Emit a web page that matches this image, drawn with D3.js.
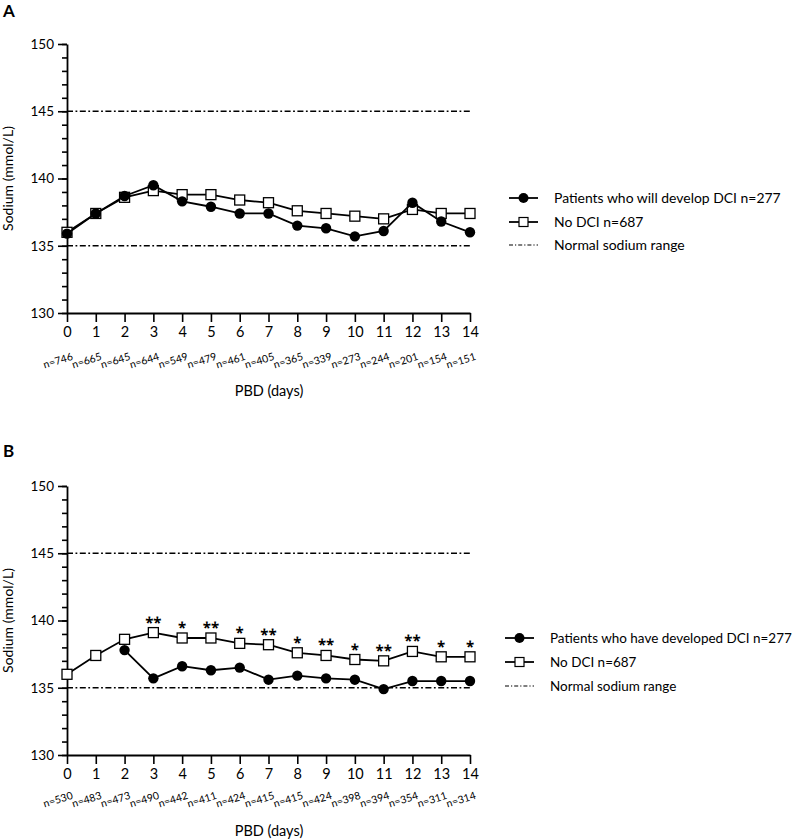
<!DOCTYPE html>
<html>
<head>
<meta charset="utf-8">
<script src="https://cdn.jsdelivr.net/npm/d3@7"></script>
<style>
  html, body { margin: 0; padding: 0; background: #fff; }
  svg { display: block; font-family: Lato, "Open Sans", sans-serif; }
</style>
</head>
<body>
<svg id="chart" width="800" height="840"></svg>
<script>
// ---------- data ----------
const days = [0, 1, 2, 3, 4, 5, 6, 7, 8, 9, 10, 11, 12, 13, 14];
const yTicks = [130, 135, 140, 145, 150];
const normalRange = [135, 145];

const nA = [746, 665, 645, 644, 549, 479, 461, 405, 365, 339, 273, 244, 201, 154, 151];
const dciA = [135.9, 137.4, 138.7, 139.5, 138.3, 137.9, 137.4, 137.4, 136.5, 136.3, 135.7, 136.1, 138.2, 136.8, 136.0];
const noDciA = [136.0, 137.4, 138.6, 139.1, 138.8, 138.8, 138.4, 138.2, 137.6, 137.4, 137.2, 137.0, 137.7, 137.4, 137.4];

const nB = [530, 483, 473, 490, 442, 411, 424, 415, 415, 424, 398, 394, 354, 311, 314];
const dciB = [null, null, 137.8, 135.7, 136.6, 136.3, 136.5, 135.6, 135.9, 135.7, 135.6, 134.9, 135.5, 135.5, 135.5];
const noDciB = [136.0, 137.4, 138.6, 139.1, 138.7, 138.7, 138.3, 138.2, 137.6, 137.4, 137.1, 137.0, 137.7, 137.3, 137.3];
const sigB = ["", "", "", "**", "*", "**", "*", "**", "*", "**", "*", "**", "**", "*", "*"];

const legendA = ["Patients who will develop DCI n=277", "No DCI n=687", "Normal sodium range"];
const legendB = ["Patients who have developed DCI n=277", "No DCI n=687", "Normal sodium range"];

// ---------- drawing ----------
const svg = d3.select("#chart");
const DASH = "6,2.5,1.8,2.5";

function drawPanel(p) {
  const g = svg.append("g");
  const x = d3.scaleLinear().domain([0, 14]).range([67, 470]);
  const y = d3.scaleLinear().domain([130, 150]).range([p.bottom, p.bottom - 269]);

  // panel letter
  g.append("text").attr("x", 3).attr("y", p.letterY)
    .attr("font-size", 17).attr("font-weight", "bold").attr("fill", "#000").text(p.letter);

  // minor y ticks
  g.append("g").attr("transform", "translate(67,0)")
    .call(d3.axisLeft(y).tickValues(d3.range(130, 151, 1)).tickSize(5).tickFormat(""))
    .call(a => a.select(".domain").remove())
    .call(a => a.selectAll("line").attr("stroke-width", 1.6));

  // major y axis
  const ya = g.append("g").attr("transform", "translate(67,0)")
    .call(d3.axisLeft(y).tickValues(yTicks).tickSize(9).tickSizeOuter(0).tickPadding(4));
  ya.select(".domain").attr("stroke-width", 1.8);
  ya.selectAll("line").attr("stroke-width", 1.6);
  ya.selectAll("text").attr("font-size", 13.5).attr("font-family", "Lato, sans-serif");

  // x axis
  const xa = g.append("g").attr("transform", `translate(0,${p.bottom})`)
    .call(d3.axisBottom(x).tickValues(days).tickSize(9).tickSizeOuter(0).tickPadding(5));
  xa.select(".domain").attr("stroke-width", 1.8);
  xa.selectAll("line").attr("stroke-width", 1.6);
  xa.selectAll("text").attr("font-size", 14.5).attr("font-family", "Lato, sans-serif");

  // n labels
  g.append("g").selectAll("text").data(days).join("text")
    .attr("transform", d => `translate(${x(d) - 8},${p.bottom + p.nOff}) rotate(-17)`)
    .attr("text-anchor", "middle").attr("font-size", 10.5).attr("fill", "#000")
    .text((d, i) => "n=" + p.n[i]);

  // axis titles
  g.append("text").attr("x", 269).attr("y", p.bottom + p.titleOff)
    .attr("text-anchor", "middle").attr("font-size", 14.5).attr("fill", "#000").text("PBD (days)");
  g.append("text")
    .attr("transform", `translate(13,${y(140)}) rotate(-90)`)
    .attr("text-anchor", "middle").attr("font-size", 14).attr("fill", "#000").text("Sodium (mmol/L)");

  // normal range lines
  g.append("g").selectAll("line").data(normalRange).join("line")
    .attr("x1", x(0)).attr("x2", x(14))
    .attr("y1", d => y(d)).attr("y2", d => y(d))
    .attr("stroke", "#000").attr("stroke-width", 1.5).attr("stroke-dasharray", DASH);

  const line = d3.line().defined(d => d != null).x((d, i) => x(days[i])).y(d => y(d));

  // no DCI series (squares)
  g.append("path").datum(p.noDci).attr("d", line)
    .attr("fill", "none").attr("stroke", "#000").attr("stroke-width", 1.8);
  g.append("g").selectAll("rect").data(p.noDci).join("rect")
    .attr("x", (d, i) => x(days[i]) - 5).attr("y", d => y(d) - 5)
    .attr("width", 10).attr("height", 10)
    .attr("fill", "#fff").attr("stroke", "#000").attr("stroke-width", 1.3);

  // DCI series (circles)
  g.append("path").datum(p.dci).attr("d", line)
    .attr("fill", "none").attr("stroke", "#000").attr("stroke-width", 1.8);
  g.append("g").selectAll("circle")
    .data(p.dci.map((v, i) => ({ v, i })).filter(d => d.v != null)).join("circle")
    .attr("cx", d => x(days[d.i])).attr("cy", d => y(d.v)).attr("r", 5.2).attr("fill", "#000");

  // significance stars
  if (p.sig) {
    g.append("g").selectAll("text").data(p.sig).join("text")
      .attr("x", (d, i) => x(days[i])).attr("y", (d, i) => y(p.noDci[i]) - 5)
      .attr("text-anchor", "middle").attr("font-size", 15)
      .attr("font-family", "'Open Sans', sans-serif").attr("font-weight", "bold")
      .attr("fill", "#000").style("text-rendering", "geometricPrecision")
      .text(d => d);
  }

  // legend
  const lg = g.append("g");
  const texts = [];
  p.legend.forEach((label, i) => {
    const cy = p.legendY[i];
    if (i < 2) {
      lg.append("line").attr("x1", p.legX).attr("x2", p.legX + 29)
        .attr("y1", cy).attr("y2", cy).attr("stroke", "#000").attr("stroke-width", 1.8);
      if (i === 0) {
        lg.append("circle").attr("cx", p.legX + 14.5).attr("cy", cy).attr("r", 5).attr("fill", "#000");
      } else {
        lg.append("rect").attr("x", p.legX + 10).attr("y", cy - 4.5).attr("width", 9).attr("height", 9)
          .attr("fill", "#fff").attr("stroke", "#000").attr("stroke-width", 1.2);
      }
    } else {
      lg.append("line").attr("x1", p.legX).attr("x2", p.legX + 29)
        .attr("y1", cy).attr("y2", cy).attr("stroke", "#000").attr("stroke-width", 1.2)
        .attr("stroke-dasharray", "4,2,1.2,2");
    }
    texts.push(lg.append("text").attr("x", p.legX + 45).attr("y", cy + 5)
      .attr("font-size", 14).attr("fill", "#000").text(label));
  });
  // fit legend font so the longest label matches the reference width
  const w = texts[0].node().getComputedTextLength();
  const fs = Math.min(14.5, 14 * p.legW / w);
  texts.forEach(t => t.attr("font-size", fs));
}

drawPanel({
  letter: "A", letterY: 17, bottom: 313, nOff: 51, titleOff: 83,
  n: nA, dci: dciA, noDci: noDciA, sig: null,
  legend: legendA, legX: 509, legW: 227, legendY: [198, 222, 245]
});
drawPanel({
  letter: "B", letterY: 457, bottom: 755, nOff: 48, titleOff: 81,
  n: nB, dci: dciB, noDci: noDciB, sig: sigB,
  legend: legendB, legX: 505, legW: 242, legendY: [638, 662, 686]
});
</script>
</body>
</html>
